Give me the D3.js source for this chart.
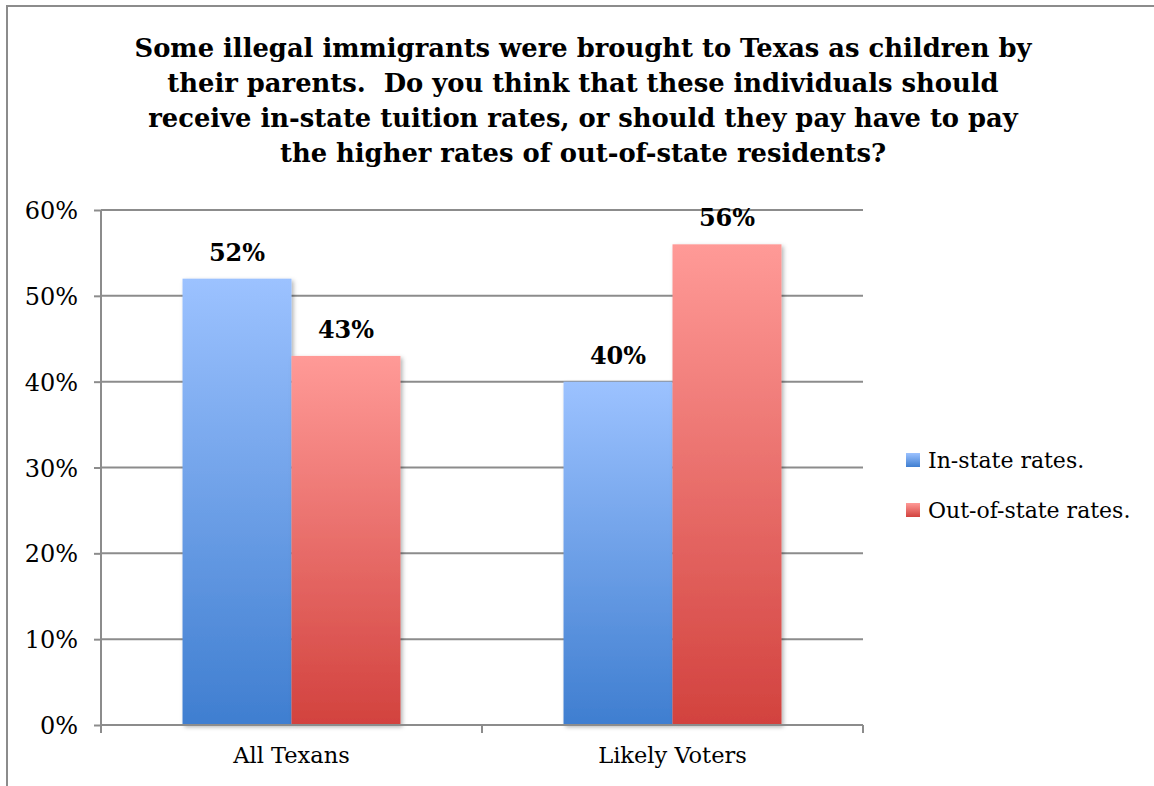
<!DOCTYPE html>
<html>
<head>
<meta charset="utf-8">
<script src="https://cdn.jsdelivr.net/npm/d3@7"></script>
<style>
  html, body { margin: 0; padding: 0; background: #fff; }
  svg { display: block; }
</style>
</head>
<body>
<svg id="chart" width="1154" height="786"></svg>
<script>
// Survey results: share preferring each tuition option, by group
const categories = ["All Texans", "Likely Voters"];
const seriesNames = ["In-state rates.", "Out-of-state rates."];
const inState = [52, 40];
const outOfState = [43, 56];
const yTicks = [0, 10, 20, 30, 40, 50, 60];
const titleLines = [
  "Some illegal immigrants were brought to Texas as children by",
  "their parents.  Do you think that these individuals should",
  "receive in-state tuition rates, or should they pay have to pay",
  "the higher rates of out-of-state residents?"
];

const series = [inState, outOfState];
const serif = "'DejaVu Serif', 'Liberation Serif', serif";

const svg = d3.select("#chart");
const W = 1154, H = 786;

// outer frame (open on the right and bottom)
svg.append("rect")
  .attr("x", 7).attr("y", 6)
  .attr("width", W).attr("height", H)
  .attr("fill", "none").attr("stroke", "#8c8c8c").attr("stroke-width", 2);

const plot = { left: 101, right: 863, top: 210, bottom: 725 };

const x0 = d3.scaleBand().domain(categories)
  .range([plot.left, plot.right]).paddingInner(0).paddingOuter(0);
const x1 = d3.scaleBand().domain(d3.range(seriesNames.length))
  .range([0, x0.bandwidth()]).paddingInner(0).paddingOuter(0.748);
const y = d3.scaleLinear().domain([0, 60]).range([plot.bottom, plot.top]);

// gradients and shadow
const defs = svg.append("defs");
const gradStops = [
  ["#9cc2ff", "#3f7ed0"],
  ["#ff9a97", "#d2423e"]
];
gradStops.forEach((c, i) => {
  const g = defs.append("linearGradient").attr("id", "grad" + i)
    .attr("x1", 0).attr("y1", 0).attr("x2", 0).attr("y2", 1);
  g.append("stop").attr("offset", "0%").attr("stop-color", c[0]);
  g.append("stop").attr("offset", "100%").attr("stop-color", c[1]);
});
const f = defs.append("filter").attr("id", "shadow")
  .attr("x", "-10%").attr("y", "-10%").attr("width", "130%").attr("height", "130%");
f.append("feDropShadow").attr("dx", 2).attr("dy", 2).attr("stdDeviation", 2)
  .attr("flood-color", "#000").attr("flood-opacity", 0.3);

// gridlines
svg.append("g").selectAll("line").data(yTicks.filter(t => t > 0)).join("line")
  .attr("x1", plot.left).attr("x2", plot.right)
  .attr("y1", d => y(d)).attr("y2", d => y(d))
  .attr("stroke", "#8c8c8c").attr("stroke-width", 2);

// y axis
const yAxis = d3.axisLeft(y).tickValues(yTicks).tickSize(7).tickPadding(16)
  .tickFormat(d => d + "%");
const gy = svg.append("g").attr("transform", `translate(${plot.left},0)`).call(yAxis);
gy.select(".domain").attr("stroke", "#8c8c8c").attr("stroke-width", 2)
  .attr("d", `M0,${plot.top}V${plot.bottom}`);
gy.selectAll(".tick line").attr("stroke", "#8c8c8c").attr("stroke-width", 2);
gy.selectAll(".tick text").attr("font-family", serif).attr("font-size", 24)
  .attr("fill", "#000").attr("dy", "0.36em");

// bars
const groups = svg.append("g").selectAll("g").data(categories).join("g")
  .attr("transform", d => `translate(${x0(d)},0)`);
groups.selectAll("rect")
  .data((d, ci) => series.map((s, si) => ({ si, v: s[ci] })))
  .join("rect")
  .attr("x", d => x1(d.si))
  .attr("width", x1.bandwidth())
  .attr("y", d => y(d.v))
  .attr("height", d => y(0) - y(d.v))
  .attr("fill", d => `url(#grad${d.si})`)
  .attr("filter", "url(#shadow)");

// value labels
groups.selectAll("text")
  .data((d, ci) => series.map((s, si) => ({ si, v: s[ci] })))
  .join("text")
  .attr("x", d => x1(d.si) + x1.bandwidth() / 2)
  .attr("y", d => y(d.v) - 18)
  .attr("text-anchor", "middle")
  .attr("font-family", serif).attr("font-weight", "bold").attr("font-size", 24)
  .attr("fill", "#000")
  .text(d => d.v + "%");

// x axis
const xAxis = d3.axisBottom(x0).tickSize(0).tickPadding(22);
const gx = svg.append("g").attr("transform", `translate(0,${plot.bottom})`).call(xAxis);
gx.select(".domain").remove();
gx.append("line").attr("x1", plot.left).attr("x2", plot.right)
  .attr("y1", 0).attr("y2", 0).attr("stroke", "#8c8c8c").attr("stroke-width", 2);
gx.selectAll(".sep").data([plot.left, plot.left + x0.bandwidth(), plot.right]).join("line")
  .attr("class", "sep")
  .attr("x1", d => d).attr("x2", d => d).attr("y1", 0).attr("y2", 8)
  .attr("stroke", "#8c8c8c").attr("stroke-width", 2);
gx.selectAll(".tick text").attr("font-family", serif).attr("font-size", 22.5)
  .attr("fill", "#000").attr("dy", "0.71em");

// legend
const legend = svg.append("g").attr("transform", "translate(906,453)");
const li = legend.selectAll("g").data(seriesNames).join("g")
  .attr("transform", (d, i) => `translate(0,${i * 50})`);
li.append("rect").attr("width", 14).attr("height", 14)
  .attr("fill", (d, i) => `url(#grad${i})`);
li.append("text").attr("x", 22).attr("y", 7).attr("dy", "0.36em")
  .attr("font-family", serif).attr("font-size", 22).attr("fill", "#000")
  .text(d => d);

// title
svg.append("g").selectAll("text").data(titleLines).join("text")
  .attr("x", 583).attr("y", (d, i) => 57 + i * 35)
  .attr("text-anchor", "middle")
  .attr("font-family", serif).attr("font-weight", "bold").attr("font-size", 25.8)
  .attr("fill", "#000")
  .attr("xml:space", "preserve")
  .style("white-space", "pre")
  .text(d => d);
</script>
</body>
</html>
